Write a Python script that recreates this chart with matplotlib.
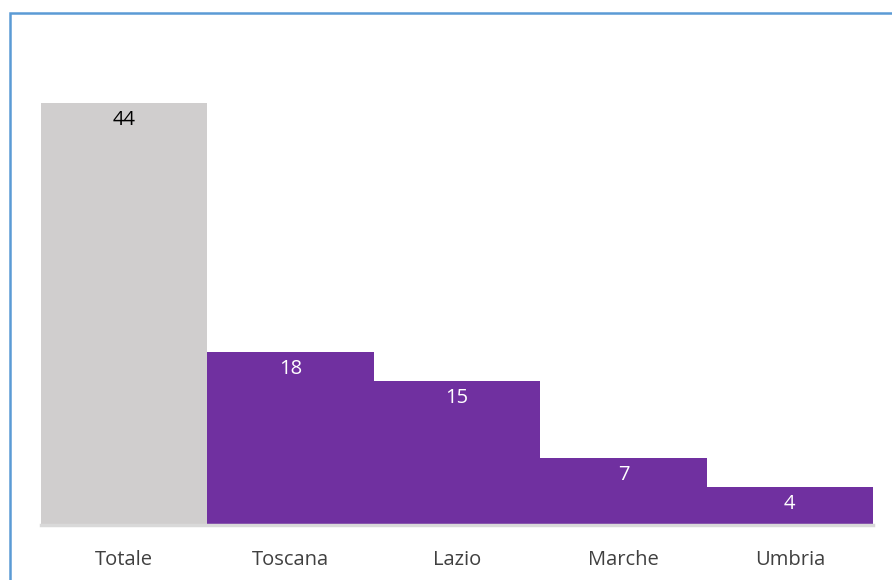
import matplotlib.pyplot as plt
from matplotlib.patches import Rectangle

regions = ['Totale', 'Toscana', 'Lazio', 'Marche', 'Umbria']
values = [44, 18, 15, 7, 4]
colors = ['#D0CECE', '#7030A0', '#7030A0', '#7030A0', '#7030A0']
label_colors = ['black', 'white', 'white', 'white', 'white']

W, H = 892, 580
fig = plt.figure(figsize=(W / 100, H / 100), dpi=100)
plt.rcParams['font.family'] = ['Open Sans', 'DejaVu Sans']

# blue frame, cut by the right and bottom edges
fig.patches.append(Rectangle((10 / W, -0.1), 1.1, (H - 13) / H + 0.1,
                             transform=fig.transFigure, fill=False,
                             edgecolor='#5B9BD5', linewidth=1.8))

ax = fig.add_axes([41 / W, 55 / H, 832 / W, 480 / H])
x = range(len(regions))
ax.bar(x, values, width=1.0, color=colors)
for i, v in enumerate(values):
    ax.annotate(str(v), (i, v), xytext=(0, -5), textcoords='offset points',
                ha='center', va='top', fontsize=14.5, color=label_colors[i])

ax.set_xlim(-0.5, len(regions) - 0.5)
ax.set_ylim(0, 50)
ax.set_xticks(list(x))
ax.set_xticklabels(regions, fontsize=14.5, color='#404040')
ax.tick_params(axis='x', length=0, pad=18)
ax.set_yticks([])
for s in ['top', 'right', 'left']:
    ax.spines[s].set_visible(False)
ax.spines['bottom'].set_color('#D9D9D9')
ax.spines['bottom'].set_linewidth(2.5)

fig.savefig('out.png', dpi=100)
